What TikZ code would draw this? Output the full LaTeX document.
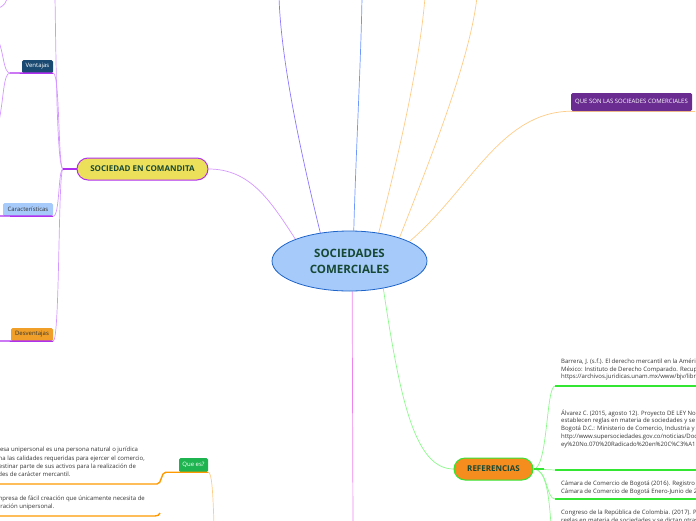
\documentclass[tikz,border=0pt]{standalone}
\usepackage{fontspec}
\setmainfont{Open Sans}
\usetikzlibrary{shapes.geometric, positioning, backgrounds}
\definecolor{corefill}{RGB}{166,202,250}
\definecolor{coreline}{RGB}{30,100,200}
\definecolor{topictext}{RGB}{22,72,52}
\definecolor{comanditafill}{RGB}{236,224,90}
\definecolor{comanditaline}{RGB}{176,48,240}
\definecolor{linkpurple}{RGB}{212,150,255}
\definecolor{linkviolet}{RGB}{140,120,255}
\definecolor{linkblue}{RGB}{110,150,255}
\definecolor{linkorange}{RGB}{255,204,136}
\definecolor{linkpink}{RGB}{238,130,238}
\definecolor{linkgreen}{RGB}{140,250,140}
\definecolor{refgreen}{RGB}{50,230,50}
\definecolor{reforange}{RGB}{245,140,30}
\definecolor{quesonpurple}{RGB}{106,44,145}
\definecolor{ventajasblue}{RGB}{26,74,114}
\definecolor{desvorange}{RGB}{240,160,40}
\definecolor{queesgreen}{RGB}{30,180,80}
\definecolor{textorange}{RGB}{255,153,0}

\begin{document}
\begin{tikzpicture}[
    x=1pt, y=-1pt,
    central/.style={ellipse, draw=coreline, fill=corefill, line width=0.8pt,
                minimum width=155pt, minimum height=60pt, inner sep=0pt, align=center,
                text=topictext, font=\fontsize{11.5}{16}\selectfont\bfseries},
    topic/.style={rectangle, rounded corners=11pt, line width=1pt, minimum height=22pt,
                inner sep=0pt, text=topictext, font=\fontsize{8}{9}\selectfont\bfseries},
    tag/.style={rectangle, rounded corners=1.5pt, minimum height=13pt, inner sep=1pt,
                font=\fontsize{6}{7}\selectfont},
    reftext/.style={inner sep=0pt, align=left, text=black!80, font=\fontsize{6}{7.7}\selectfont},
    thinlink/.style={line width=0.7pt},
    hubline/.style={line width=1.4pt}
]
    \useasboundingbox (0,0) rectangle (696,520);
    \clip (0,0) rectangle (696,520);

    % Central topic
    \node[central] (core) at (349.5,261) {SOCIEDADES\\COMERCIALES};

    % Main topics
    \node[topic, draw=comanditaline, fill=comanditafill, minimum width=131pt] (comandita) at (142.5,169) {SOCIEDAD EN COMANDITA};
    \node[topic, draw=refgreen, fill=reforange, minimum width=79pt] (referencias) at (493.5,469) {REFERENCIAS};
    \node[tag, fill=quesonpurple, text=white, minimum width=121pt, minimum height=18pt] (queson) at (631.5,102) {QUE SON LAS SOCIEADES COMERCIALES};

    % Sub topics
    \node[tag, fill=ventajasblue, text=white, minimum width=31pt] (ventajas) at (37.5,66.5) {Ventajas};
    \node[tag, fill=corefill, text=black!80, minimum width=50pt] (caract) at (28,209.5) {Características};
    \node[tag, fill=desvorange, text=black!80, minimum width=42pt] (desvent) at (32,334.5) {Desventajas};
    \node[tag, fill=queesgreen, text=white, minimum width=29pt, minimum height=14pt] (quees) at (193.5,465) {Que es?};

    % Texts
    \node[reftext, anchor=north west] (barrera) at (561,358.5) {Barrera, J. (s.f.). El derecho mercantil en la América Latina.\\México: Instituto de Derecho Comparado. Recuperado de\\https://archivos.juridicas.unam.mx/www/bjv/libros};
    \node[reftext, anchor=north west] (alvarez) at (561,409.5) {Álvarez C. (2015, agosto 12). Proyecto DE LEY No.\\establecen reglas en materia de sociedades y se dictan\\Bogotá D.C.: Ministerio de Comercio, Industria y Turismo.\\http://www.supersociedades.gov.co/noticias/Documents\\ey\%20No.070\%20Radicado\%20en\%20C\%C3\%A1mara};
    \node[reftext, anchor=north west] (camara) at (561,481) {Cámara de Comercio de Bogotá (2016). Registro mercantil.\\Cámara de Comercio de Bogotá Enero-Junio de 2016.};
    \node[reftext, anchor=north west] (congreso) at (561,509.5) {Congreso de la República de Colombia. (2017). Proyecto de ley\\reglas en materia de sociedades y se dictan otras disposiciones};
    \node[reftext, anchor=north east, font=\fontsize{6}{8.3}\selectfont] (definicion) at (145,447) {La empresa unipersonal es una persona natural o jurídica\\que reúna las calidades requeridas para ejercer el comercio,\\podrá destinar parte de sus activos para la realización de\\actividades de carácter mercantil.};
    \node[reftext, anchor=north east, font=\fontsize{6}{8.3}\selectfont] (facil) at (145,495.5) {Es una empresa de fácil creación que únicamente necesita de\\una declaración unipersonal.};

    % Free ends
    \coordinate (top2) at (279,-3);
    \coordinate (top3) at (362,-3);
    \coordinate (top4) at (425,-3);
    \coordinate (top5) at (477,-3);
    \coordinate (bottom1) at (353,525);
    \coordinate (chub) at (63,169);
    \coordinate (ctop) at (55,-3);
    \coordinate (vhub) at (10,73);
    \coordinate (vup) at (-3,38);
    \coordinate (vdown) at (-2,126);
    \coordinate (cornerA) at (-1,8);
    \coordinate (cornerB) at (7,-1);
    \coordinate (cleft) at (-2,216);
    \coordinate (dleft) at (-2,341);
    \coordinate (b1) at (555,386);
    \coordinate (b2) at (555,470);
    \coordinate (b3) at (555,499);
    \coordinate (b4) at (551,525);
    \coordinate (d1end) at (157,484);
    \coordinate (d2end) at (155,516);
    \coordinate (qdown) at (214,525);

    % Connectors
    \begin{scope}[on background layer]
        \clip (0,0) rectangle (696,520);
        \draw[thinlink, linkpurple] (comandita.east) .. controls (250,169) and (270,200) .. (core.158);
        \draw[thinlink, linkviolet] (core.136) .. controls (300,150) and (281,60) .. (top2);
        \draw[thinlink, linkblue] (core.82) .. controls (356,150) and (361,60) .. (top3);
        \draw[thinlink, linkorange] (core.44) .. controls (400,150) and (420,60) .. (top4);
        \draw[thinlink, linkorange] (core.25) .. controls (430,160) and (470,60) .. (top5);
        \draw[thinlink, linkorange] (core.18) .. controls (470,190) and (500,112) .. (queson.south west);
        \draw[thinlink, linkorange] (queson.south west) -- ([xshift=3pt]queson.south east);
        \draw[thinlink, linkpink] (core.275) -- (bottom1);
        \draw[thinlink, linkgreen] (core.321) .. controls (400,400) and (415,469) .. (referencias.west);

        % Referencias
        \draw[thinlink, linkgreen] (referencias.east) .. controls (548,469) and (546,386) .. (b1);
        \draw[thinlink, linkgreen] (referencias.east) -- (b2);
        \draw[thinlink, linkgreen] (referencias.east) .. controls (548,469) and (546,499) .. (b3);
        \draw[thinlink, linkgreen] (referencias.east) .. controls (546,469) and (549,495) .. (b4);

        % Sociedad en comandita
        \draw[thinlink, linkpurple] (chub) .. controls (57,169) and (56,60) .. (ctop);
        \draw[thinlink, linkpurple] (chub) .. controls (58,169) and (60,73) .. (ventajas.south east);
        \draw[thinlink, linkpurple] (chub) .. controls (58,169) and (60,216) .. (caract.south east);
        \draw[thinlink, linkpurple] (chub) .. controls (58,169) and (60,341) .. (desvent.south east);
        \draw[thinlink, linkpurple] (vhub) .. controls (3,73) and (4,50) .. (vup);
        \draw[thinlink, linkpurple] (vhub) .. controls (3,73) and (4,100) .. (vdown);
        \draw[thinlink, linkpurple] (cornerA) .. controls (5,5) and (6,2) .. (cornerB);

        % Que es?
        \draw[thinlink, linkorange] (quees.south east) .. controls (212,472) and (213,495) .. (qdown);
    \end{scope}

    % Underlines
    \draw[hubline, refgreen] (referencias.east) -- +(10,0);
    \draw[hubline, refgreen] (b1) -- +(150,0);
    \draw[hubline, refgreen] (b2) -- +(150,0);
    \draw[hubline, refgreen] (b3) -- +(150,0);
    \draw[hubline, comanditaline] (chub) -- (comandita.west);
    \draw[hubline, comanditaline] (vhub) -- (ventajas.south east);
    \draw[hubline, comanditaline] (cleft) -- (caract.south east);
    \draw[hubline, comanditaline] (dleft) -- (desvent.south east);
    \draw[hubline, textorange] (definicion.south west |- d1end) -- (d1end)
        .. controls +(5,0) and +(-5,0) .. ([xshift=-13pt]quees.south west) -- (quees.south east);
    \draw[hubline, textorange] (facil.south west |- d2end) -- (d2end) .. controls +(3,0) and +(-1,2) .. +(5,-3);
\end{tikzpicture}
\end{document}
